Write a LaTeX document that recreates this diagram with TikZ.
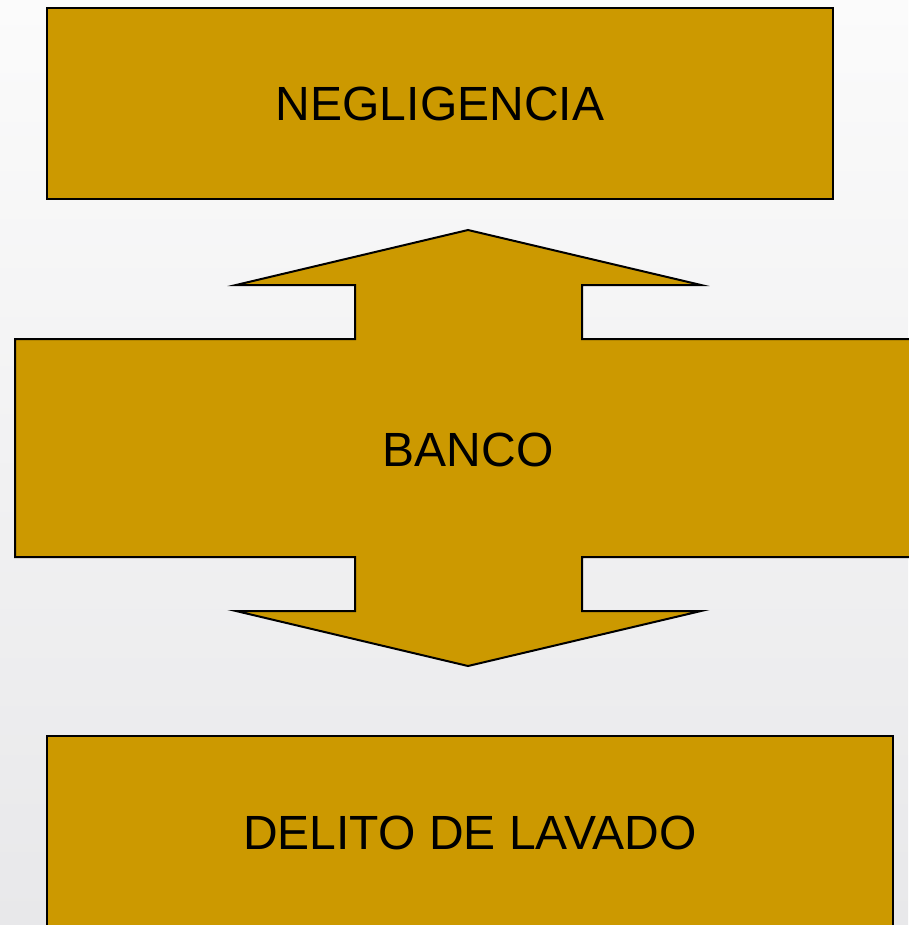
\documentclass[tikz,border=0pt]{standalone}
\usepackage{fontspec}
\setmainfont{Liberation Sans}
\definecolor{gold}{HTML}{CC9900}
\definecolor{bgtop}{HTML}{FBFBFB}
\definecolor{bgbot}{HTML}{E8E8EA}
\tikzset{
  shapebox/.style={fill=gold, draw=black, line width=2pt, line join=miter},
  label/.style={font=\fontsize{48}{57}\selectfont, text=black, inner sep=0pt}
}
\begin{document}
\begin{tikzpicture}[x=1pt,y=-1pt]
\useasboundingbox (0,0) rectangle (908,925);
\shade[top color=bgtop, bottom color=bgbot] (0,0) rectangle (908,925);
% top box
\draw[shapebox] (47,8) rectangle (833,199);
\node[label] (neg) at (440,104) {NEGLIGENCIA};
% double arrow
\draw[shapebox] (468,230) -- (701,285) -- (582,285) -- (582,339) -- (930,339)
  -- (930,557) -- (582,557) -- (582,611) -- (701,611) -- (468,666)
  -- (236,611) -- (355,611) -- (355,557) -- (15,557) -- (15,339)
  -- (355,339) -- (355,285) -- (236,285) -- cycle;
\node[label] (banco) at (468,450) {BANCO};
% bottom box
\draw[shapebox] (47,736) rectangle (893,950);
\node[label] (delito) at (470,833) {DELITO DE LAVADO};
\end{tikzpicture}
\end{document}
